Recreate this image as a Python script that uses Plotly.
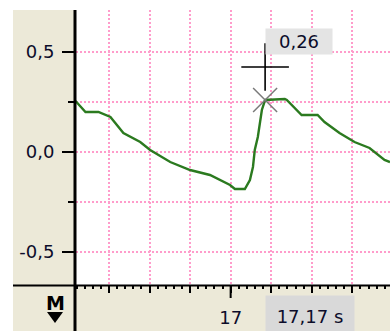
import plotly.graph_objects as go

# Recorded signal (time in s, amplitude)
time_s = [16.235, 16.284, 16.348, 16.407, 16.471, 16.554, 16.603, 16.702, 16.800,
          16.898, 16.997, 17.021, 17.070, 17.095, 17.110, 17.119, 17.134, 17.144,
          17.154, 17.170, 17.267, 17.277, 17.350, 17.429, 17.463, 17.537, 17.611,
          17.685, 17.759, 17.786]
signal = [0.255, 0.200, 0.200, 0.175, 0.095, 0.050, 0.010, -0.050, -0.090,
          -0.115, -0.165, -0.185, -0.185, -0.140, -0.075, 0.010, 0.075, 0.145,
          0.210, 0.260, 0.265, 0.260, 0.185, 0.185, 0.150, 0.095, 0.050,
          0.020, -0.040, -0.050]

# Cursor readout
cursor_t = 17.17
cursor_v = 0.26
handle_v = 0.425
cursor_t_label = "17,17 s"
cursor_v_label = "0,26"

x_grid = [16.4, 16.6, 16.8, 17.0, 17.2, 17.4, 17.6]
x_text = ["", "", "", "17", "", "", ""]
y_major = [-0.5, 0.0, 0.5]
y_text = ["-0,5", "0,0", "0,5"]
y_minor = [-0.25, 0.25]

W, H = 390, 331
L, T, B = 76, 10, 46
PW, PH = W - L, H - T - B

def px(x):
    return (x - L) / PW

def py(y):
    return (H - B - y) / PH

BEIGE = "#ece9d8"
PINK = "#ff9ccb"
FONT = "DejaVu Sans"
TXT = "#0c0c2a"

fig = go.Figure()
fig.add_trace(go.Scatter(x=time_s, y=signal, mode="lines",
                         line=dict(color="#2b7a1f", width=2.4), hoverinfo="skip"))
fig.add_trace(go.Scatter(x=[cursor_t], y=[cursor_v], mode="markers",
                         marker=dict(symbol="x-thin-open", size=24, color="#7a7a7a",
                                     line=dict(color="#7a7a7a", width=1.5))))
fig.add_trace(go.Scatter(x=[cursor_t], y=[handle_v], mode="markers",
                         marker=dict(symbol="cross-thin-open", size=34, color="black",
                                     line=dict(color="black", width=1.6))))

grid = dict(showgrid=True, gridcolor=PINK, gridwidth=1.5, griddash="2px,2px")

shapes = [
    # beige side panel and bottom band
    dict(type="rect", xref="paper", yref="paper", x0=px(13), x1=px(75), y0=py(331), y1=py(10),
         fillcolor=BEIGE, line_width=0, layer="below"),
    dict(type="rect", xref="paper", yref="paper", x0=px(13), x1=px(390), y0=py(331), y1=py(286),
         fillcolor=BEIGE, line_width=0, layer="below"),
    # axis lines
    dict(type="line", xref="paper", yref="paper", x0=px(75), x1=px(75), y0=py(331), y1=py(10),
         line=dict(color="black", width=3), layer="above"),
    dict(type="line", xref="paper", yref="paper", x0=px(13), x1=px(390), y0=py(285.5), y1=py(285.5),
         line=dict(color="black", width=2), layer="above"),
    # long tick at the labelled second
    dict(type="line", xref="x", yref="paper", x0=17, x1=17, y0=py(285), y1=py(298),
         line=dict(color="black", width=2), layer="above"),
    # marker arrow under the M
    dict(type="path", xref="paper", yref="paper",
         path=f"M {px(47)},{py(312)} L {px(63)},{py(312)} L {px(55)},{py(323)} Z",
         fillcolor="black", line_width=0, layer="above"),
]

annotations = [
    dict(x=cursor_t, y=0.555, xref="x", yref="y", xanchor="left", yanchor="middle",
         text=cursor_v_label, showarrow=False, bgcolor="#e4e4e4", width=62, height=21,
         borderpad=2, font=dict(family=FONT, size=18, color=TXT)),
    dict(x=cursor_t, y=py(295), xref="x", yref="paper", xanchor="left", yanchor="top",
         text=cursor_t_label, showarrow=False, bgcolor="#d9d9d9", width=88, height=40,
         borderpad=0, font=dict(family=FONT, size=18, color=TXT)),
    dict(x=px(55.5), y=py(303), xref="paper", yref="paper", xanchor="center", yanchor="middle",
         text="<b>M</b>", showarrow=False, font=dict(family=FONT, size=19, color="black")),
]

fig.update_layout(
    width=W, height=H,
    margin=dict(l=L, r=0, t=T, b=B, pad=0),
    paper_bgcolor="white", plot_bgcolor="white",
    showlegend=False,
    shapes=shapes, annotations=annotations,
    xaxis=dict(range=[16.2372, 17.786], tickmode="array", tickvals=x_grid, ticktext=x_text,
               ticks="outside", ticklen=7, tickwidth=1.5, tickcolor="black",
               minor=dict(tickmode="linear", tick0=16.2, dtick=0.04, ticks="outside",
                          ticklen=3, tickwidth=1.5, tickcolor="black", showgrid=False),
               zeroline=False, showline=False, ticklabelstandoff=9,
               tickfont=dict(family=FONT, size=18, color=TXT), **grid),
    yaxis=dict(range=[-0.665, 0.71], tickmode="array", tickvals=y_major, ticktext=y_text,
               ticks="outside", ticklen=13, tickwidth=2, tickcolor="black",
               minor=dict(tickvals=y_minor, ticks="outside", ticklen=7, tickwidth=2,
                          tickcolor="black", **grid),
               zeroline=False, showline=False, ticklabelstandoff=4,
               tickfont=dict(family=FONT, size=18, color=TXT), **grid),
)

fig.write_html("out.html")
